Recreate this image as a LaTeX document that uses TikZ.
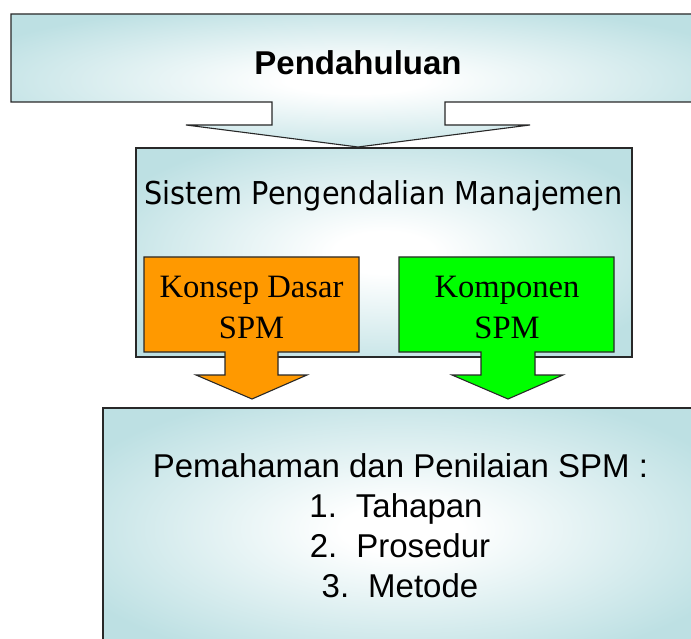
\documentclass[tikz,border=0pt]{standalone}
\usepackage{fontspec}
\setmainfont{Liberation Sans}
\newfontfamily\serifface{Liberation Serif}
\newfontfamily\humanface{DejaVu Sans}
\definecolor{paleblue}{RGB}{189,224,227}
\definecolor{boxorange}{RGB}{255,153,0}
\definecolor{boxgreen}{RGB}{0,255,0}
\definecolor{edge}{RGB}{40,40,40}
% soft white glow in the middle of each pale-blue panel
\pgfdeclareradialshading{glow}{\pgfpoint{0bp}{0bp}}{color(0bp)=(white); color(5bp)=(white); color(30bp)=(paleblue); color(50bp)=(paleblue)}
\begin{document}
\begin{tikzpicture}[x=1pt,y=-1pt,line join=miter,
  panel/.style={draw=edge,line width=1.1pt,shading=glow},
  blockarrow/.style={draw=edge,line width=1.1pt},
  heading/.style={anchor=base,font=\fontsize{33}{40}\selectfont\bfseries},
  sanstext/.style={anchor=base,font=\fontsize{33}{40}\selectfont},
  serifline/.style={anchor=base,font=\serifface\fontsize{32.6}{40}\selectfont}]
\useasboundingbox (0,0) rectangle (691,639);
\clip (0,0) rectangle (691,639);

% top panel with its downward block arrow
\path[panel] (11,14) -- (700,14) -- (700,102) -- (445,102) -- (445,125)
  -- (530,125) -- (358,147) -- (186,125) -- (272,125) -- (272,102)
  -- (11,102) -- cycle;
\node[heading] (intro) at (358,75) {Pendahuluan};

% middle panel
\path[panel] (136,148) rectangle (632,357);
\node[anchor=base,font=\humanface\fontsize{31.5}{38}\selectfont] (spm) at (383.5,205)
  {\scalebox{0.912}[1]{Sistem Pengendalian Manajemen}};

% bottom panel
\path[panel] (103,408) rectangle (700,650);

% orange block arrow
\path[blockarrow,fill=boxorange] (144,257) -- (359,257) -- (359,352) -- (278,352)
  -- (278,375) -- (307,375) -- (252,399) -- (196,375) -- (225,375)
  -- (225,352) -- (144,352) -- cycle;
\node[serifline] (konsepA) at (251.5,298) {Konsep Dasar};
\node[serifline] (konsepB) at (251.5,338) {SPM};

% green block arrow
\path[blockarrow,fill=boxgreen] (399,257) -- (614,257) -- (614,352) -- (535,352)
  -- (535,375) -- (563,375) -- (508,399) -- (452,375) -- (481,375)
  -- (481,352) -- (399,352) -- cycle;
\node[serifline] (kompA) at (507,298) {Komponen};
\node[serifline] (kompB) at (507,338) {SPM};

% text of the bottom panel
\node[sanstext] (pemahaman) at (400.5,477) {Pemahaman dan Penilaian SPM :};
\node[sanstext] (item1) at (396,517) {1.\hspace{19pt}Tahapan};
\node[sanstext] (item2) at (400,557) {2.\hspace{19pt}Prosedur};
\node[sanstext] (item3) at (400,597) {3.\hspace{19pt}Metode};
\end{tikzpicture}
\end{document}
